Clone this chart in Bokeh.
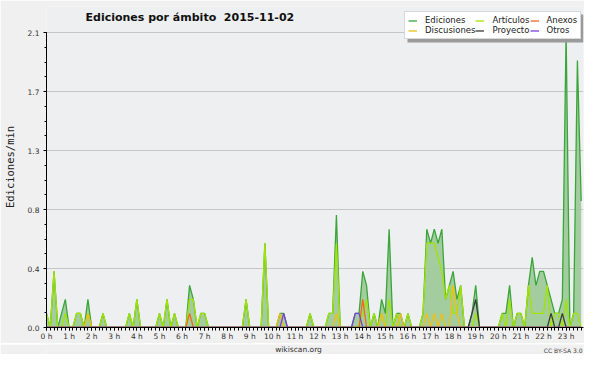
from bokeh.plotting import figure
from bokeh.layouts import column
from bokeh.models import FixedTicker, Legend, LegendItem, Label, Range1d, BoxAnnotation
from bokeh.embed import file_html
from bokeh.resources import INLINE

# ---------------- data (10-minute slots, edits per minute) ----------------
hour_labels = ["0 h", "1 h", "2 h", "3 h", "4 h", "5 h", "6 h", "7 h", "8 h", "9 h",
               "10 h", "11 h", "12 h", "13 h", "14 h", "15 h", "16 h", "17 h", "18 h",
               "19 h", "20 h", "21 h", "22 h", "23 h"]
y_tick_values = [0.0, 0.42, 0.84, 1.26, 1.68, 2.1]
y_tick_labels = ["0.0", "0.4", "0.8", "1.3", "1.7", "2.1"]

ediciones = [
    0.1, 0, 0.4, 0, 0.1, 0.2,      # 0 h
    0, 0, 0.1, 0.1, 0, 0.2,        # 1 h
    0, 0, 0, 0.1, 0, 0,            # 2 h
    0, 0, 0, 0, 0.1, 0,            # 3 h
    0.2, 0, 0, 0, 0, 0,            # 4 h
    0.1, 0, 0.2, 0, 0.1, 0,        # 5 h
    0, 0, 0.3, 0.2, 0, 0.1,        # 6 h
    0.1, 0, 0, 0, 0, 0,            # 7 h
    0, 0, 0, 0, 0, 0.2,            # 8 h
    0, 0, 0, 0, 0.6, 0,            # 9 h
    0, 0, 0.1, 0.1, 0, 0,          # 10 h
    0, 0, 0, 0, 0.1, 0,            # 11 h
    0, 0, 0, 0.1, 0.1, 0.8,        # 12 h
    0, 0, 0, 0, 0.1, 0.1,          # 13 h
    0.4, 0.3, 0, 0.1, 0, 0.2,      # 14 h
    0.1, 0.7, 0, 0.1, 0.1, 0,      # 15 h
    0.1, 0, 0, 0, 0.1, 0.7,        # 16 h
    0.6, 0.7, 0.6, 0.7, 0.2, 0.3,  # 17 h
    0.4, 0.2, 0.3, 0, 0, 0.1,      # 18 h
    0.3, 0, 0, 0, 0, 0,            # 19 h
    0, 0.1, 0.1, 0.3, 0, 0.1,      # 20 h
    0.1, 0, 0.3, 0.5, 0.3, 0.4,    # 21 h
    0.4, 0.3, 0.2, 0.1, 0.1, 0.2,  # 22 h
    2.1, 0, 0.1, 1.9, 0.9,         # 23 h
]
articulos = [
    0.1, 0, 0.4, 0, 0, 0.1,
    0, 0, 0.1, 0.1, 0, 0.1,
    0, 0, 0, 0.1, 0, 0,
    0, 0, 0, 0, 0.1, 0,
    0.2, 0, 0, 0, 0, 0,
    0.1, 0, 0.2, 0, 0.1, 0,
    0, 0, 0.2, 0.2, 0, 0.1,
    0.1, 0, 0, 0, 0, 0,
    0, 0, 0, 0, 0, 0.2,
    0, 0, 0, 0, 0.6, 0,
    0, 0, 0, 0, 0, 0,
    0, 0, 0, 0, 0.1, 0,
    0, 0, 0, 0.1, 0.1, 0.6,
    0, 0, 0, 0, 0, 0,
    0.1, 0.2, 0, 0.1, 0, 0.1,
    0, 0.2, 0, 0.1, 0, 0,
    0.1, 0, 0, 0, 0.1, 0.6,
    0.6, 0.6, 0.5, 0.4, 0.2, 0.3,
    0.1, 0.1, 0.3, 0, 0, 0,
    0.1, 0, 0, 0, 0, 0,
    0, 0.1, 0, 0.2, 0, 0.1,
    0.1, 0, 0.3, 0.1, 0.1, 0.1,
    0.1, 0.3, 0, 0.1, 0.1, 0,
    0.2, 0, 0.1, 0.1, 0,
]
discusiones = [
    0, 0, 0, 0, 0, 0,
    0, 0, 0, 0, 0, 0.1,
    0, 0, 0, 0, 0, 0,
    0, 0, 0, 0, 0, 0,
    0, 0, 0, 0, 0, 0,
    0, 0, 0, 0, 0, 0,
    0, 0, 0, 0, 0, 0,
    0, 0, 0, 0, 0, 0,
    0, 0, 0, 0, 0, 0,
    0, 0, 0, 0, 0, 0,
    0, 0, 0.1, 0, 0, 0,
    0, 0, 0, 0, 0, 0,
    0, 0, 0, 0, 0, 0.1,
    0, 0, 0, 0, 0, 0,
    0, 0, 0, 0, 0, 0.1,
    0, 0, 0, 0, 0.1, 0,
    0, 0, 0, 0, 0, 0.1,
    0, 0.1, 0, 0.1, 0, 0,
    0.3, 0.1, 0, 0, 0, 0,
    0, 0, 0, 0, 0, 0,
    0, 0, 0, 0, 0, 0,
    0, 0, 0, 0, 0, 0,
    0, 0, 0, 0, 0, 0,
    0, 0, 0, 0, 0,
]
anexos = [
    0, 0, 0, 0, 0, 0,
    0, 0, 0, 0, 0, 0,
    0, 0, 0, 0, 0, 0,
    0, 0, 0, 0, 0, 0,
    0, 0, 0, 0, 0, 0,
    0, 0, 0, 0, 0, 0,
    0, 0, 0.1, 0, 0, 0,
    0, 0, 0, 0, 0, 0,
    0, 0, 0, 0, 0, 0,
    0, 0, 0, 0, 0, 0,
    0, 0, 0, 0, 0, 0,
    0, 0, 0, 0, 0, 0,
    0, 0, 0, 0, 0, 0,
    0, 0, 0, 0, 0, 0,
    0.2, 0, 0, 0, 0, 0,
    0, 0, 0, 0, 0, 0,
    0, 0, 0, 0, 0, 0,
    0, 0, 0, 0, 0, 0,
    0, 0, 0, 0, 0, 0,
    0, 0, 0, 0, 0, 0,
    0, 0, 0, 0, 0, 0,
    0, 0, 0, 0, 0, 0,
    0, 0, 0, 0, 0, 0,
    0, 0, 0, 0, 0,
]
proyecto = [
    0, 0, 0, 0, 0, 0,
    0, 0, 0, 0, 0, 0,
    0, 0, 0, 0, 0, 0,
    0, 0, 0, 0, 0, 0,
    0, 0, 0, 0, 0, 0,
    0, 0, 0, 0, 0, 0,
    0, 0, 0, 0, 0, 0,
    0, 0, 0, 0, 0, 0,
    0, 0, 0, 0, 0, 0,
    0, 0, 0, 0, 0, 0,
    0, 0, 0, 0, 0, 0,
    0, 0, 0, 0, 0, 0,
    0, 0, 0, 0, 0, 0,
    0, 0, 0, 0, 0, 0,
    0, 0, 0, 0, 0, 0,
    0, 0, 0, 0, 0, 0,
    0, 0, 0, 0, 0, 0,
    0, 0, 0, 0, 0, 0,
    0, 0, 0, 0, 0, 0.1,
    0.2, 0, 0, 0, 0, 0,
    0, 0, 0, 0, 0, 0,
    0, 0, 0, 0, 0, 0,
    0, 0, 0.1, 0, 0, 0.1,
    0, 0, 0, 0, 0,
]
otros = [
    0, 0, 0, 0, 0, 0,
    0, 0, 0, 0, 0, 0,
    0, 0, 0, 0, 0, 0,
    0, 0, 0, 0, 0, 0,
    0, 0, 0, 0, 0, 0,
    0, 0, 0, 0, 0, 0,
    0, 0, 0, 0, 0, 0,
    0, 0, 0, 0, 0, 0,
    0, 0, 0, 0, 0, 0,
    0, 0, 0, 0, 0, 0,
    0, 0, 0, 0.1, 0, 0,
    0, 0, 0, 0, 0, 0,
    0, 0, 0, 0, 0, 0,
    0, 0, 0, 0, 0.1, 0.1,
    0, 0, 0, 0, 0, 0,
    0, 0, 0, 0, 0, 0,
    0, 0, 0, 0, 0, 0,
    0, 0, 0, 0, 0, 0,
    0, 0, 0, 0, 0, 0,
    0, 0, 0, 0, 0, 0,
    0, 0, 0, 0, 0, 0,
    0, 0, 0, 0, 0, 0,
    0, 0, 0, 0, 0, 0,
    0, 0, 0, 0, 0,
]

hours = [i / 6 for i in range(len(ediciones))]

# ---------------- main figure ----------------
FONT = "DejaVu Sans"
BG = "#f0f0f0"
MAIN_H = 343
FOOT_H = 11
FRAME_LEFT, FRAME_RIGHT = 46, 583
X_AXIS_PANEL = 16                 # ticks + labels below the frame
FRAME_BOTTOM = MAIN_H - X_AXIS_PANEL
Y_TOP_PX = 32                     # px where 2.1 sits
TOP_BORDER = 6
y_max = 2.1
y_end = y_max + (Y_TOP_PX - TOP_BORDER) * y_max / (FRAME_BOTTOM - Y_TOP_PX)

p = figure(width=584, height=MAIN_H, output_backend="svg", toolbar_location=None,
           x_range=Range1d(0, 23.77), y_range=Range1d(0, y_end),
           min_border_left=FRAME_LEFT, min_border_right=584 - FRAME_RIGHT,
           min_border_top=TOP_BORDER, min_border_bottom=X_AXIS_PANEL,
           background_fill_color="#eeeff0", border_fill_color=BG)
p.outline_line_color = None

p.varea(x=hours, y1=0, y2=ediciones, fill_color="#9cc998", fill_alpha=0.92)
r_ed = p.line(hours, ediciones, line_color="#3aa53a", line_width=1.3)
r_ar = p.line(hours, articulos, line_color="#a2e400", line_width=1.3)
r_di = p.line(hours, discusiones, line_color="#f0bf14", line_width=1.3)
r_an = p.line(hours, anexos, line_color="#f06a1e", line_width=1.3)
r_pr = p.line(hours, proyecto, line_color="#3c3c3c", line_width=1.3)
r_ot = p.line(hours, otros, line_color="#7b3fe0", line_width=1.3)

# x axis
p.xaxis.ticker = FixedTicker(ticks=list(range(24)), minor_ticks=[i / 6 for i in range(143)])
p.xaxis.major_label_overrides = {h: lab for h, lab in enumerate(hour_labels)}
# y axis
p.yaxis.ticker = FixedTicker(ticks=y_tick_values, minor_ticks=[k * 0.105 for k in range(21)])
p.yaxis.major_label_overrides = dict(zip(y_tick_values, y_tick_labels))
p.yaxis.bounds = (0, y_max)

for ax in (p.xaxis[0], p.yaxis[0]):
    ax.axis_line_color = "black"
    ax.major_tick_line_color = "black"
    ax.minor_tick_line_color = "black"
    ax.major_tick_in = 0
    ax.minor_tick_in = 0
    ax.major_label_text_font = FONT
    ax.major_label_text_font_size = "7.5px"
    ax.major_label_text_color = "#333333"
p.xaxis.major_tick_out = 3
p.xaxis.minor_tick_out = 3
p.xaxis.major_label_standoff = 1
p.yaxis.major_tick_out = 3
p.yaxis.minor_tick_out = 2
p.yaxis.major_label_standoff = 4
p.yaxis.axis_label = "Ediciones/min"
p.yaxis.axis_label_text_font = "DejaVu Sans Mono"
p.yaxis.axis_label_text_font_size = "10.5px"
p.yaxis.axis_label_text_font_style = "normal"
p.yaxis.axis_label_text_color = "#222222"
p.yaxis.axis_label_standoff = 9

p.xgrid.visible = False
p.ygrid.grid_line_color = "#c6c6c6"
p.ygrid.grid_line_width = 1

# title (screen px relative to the plot frame, measured from its bottom)
p.add_layout(Label(x=39, y=FRAME_BOTTOM - 16.7, x_units="screen", y_units="screen",
                   text="Ediciones por ámbito\u00a0 2015-11-02", text_font=FONT,
                   text_font_size="11px", text_font_style="bold", text_color="#111111",
                   text_baseline="alphabetic"))

# legend drop shadow (drawn first, offset 3 px right/down from the legend box)
LEG_X, LEG_TOP, LEG_BOTTOM, LEG_W = 404 - FRAME_LEFT, 11, 39, 176
p.add_layout(BoxAnnotation(left=LEG_X + 3, right=LEG_X + LEG_W + 3,
                           top=FRAME_BOTTOM - LEG_TOP - 3, bottom=FRAME_BOTTOM - LEG_BOTTOM - 3,
                           left_units="screen", right_units="screen",
                           top_units="screen", bottom_units="screen",
                           fill_color="#9a9a9a", fill_alpha=1.0, line_color=None))

legend = Legend(items=[
    LegendItem(label="Ediciones", renderers=[r_ed]),
    LegendItem(label="Artículos", renderers=[r_ar]),
    LegendItem(label="Anexos", renderers=[r_an]),
    LegendItem(label="Discusiones", renderers=[r_di]),
    LegendItem(label="Proyecto", renderers=[r_pr]),
    LegendItem(label="Otros", renderers=[r_ot]),
], location=(LEG_X, FRAME_BOTTOM - LEG_BOTTOM), orientation="horizontal", ncols=3,
    background_fill_color="white", background_fill_alpha=1.0,
    border_line_color="#b4b4b4", border_line_width=1,
    label_text_font=FONT, label_text_font_size="8.5px", label_text_color="#222222",
    glyph_width=9, glyph_height=9, label_height=9, label_standoff=8,
    spacing=0, padding=3, margin=0)
p.add_layout(legend)

# ---------------- footer strip (its frame lines up with the main frame) ----------------
foot = figure(width=584, height=FOOT_H, output_backend="svg", toolbar_location=None,
              x_range=Range1d(FRAME_LEFT, FRAME_RIGHT), y_range=Range1d(0, FOOT_H),
              x_axis_location=None, y_axis_location=None,
              min_border_left=FRAME_LEFT, min_border_right=584 - FRAME_RIGHT,
              min_border_top=0, min_border_bottom=0,
              background_fill_color=BG, border_fill_color=BG)
foot.outline_line_color = None
foot.xgrid.visible = False
foot.ygrid.visible = False
foot.add_layout(Label(x=298, y=FOOT_H / 2 + 0.5, text="wikiscan.org", text_font=FONT,
                      text_font_size="7.5px", text_color="#333333",
                      text_align="center", text_baseline="middle"))
foot.add_layout(Label(x=582, y=FOOT_H / 2 - 0.5, text="CC BY-SA 3.0", text_font=FONT,
                      text_font_size="6px", text_color="#444444",
                      text_align="right", text_baseline="middle"))

layout = column(p, foot, spacing=0)
open("out.html", "w").write(file_html(layout, INLINE))
